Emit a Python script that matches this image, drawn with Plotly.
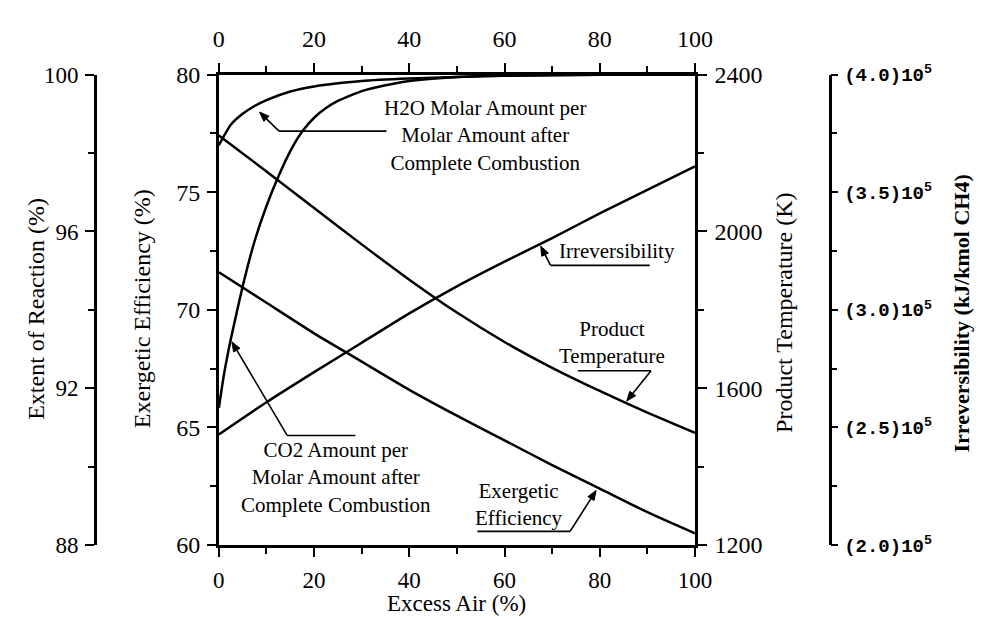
import math
import plotly.graph_objects as go

# ---------------- data ----------------
excess_air = [0, 10, 20, 30, 40, 50, 60, 70, 80, 90, 100]
exergetic_efficiency = [71.6, 70.3, 69.0, 67.8, 66.6, 65.5, 64.45, 63.4, 62.4, 61.4, 60.5]      # %
product_temperature = [2245, 2153, 2060, 1967, 1877, 1793, 1718, 1652, 1593, 1538, 1486]       # K
irreversibility = [2.47e5, 2.607e5, 2.735e5, 2.86e5, 2.985e5, 3.10e5, 3.205e5, 3.305e5,
                   3.41e5, 3.51e5, 3.61e5]                                                      # kJ/kmol CH4

co2_excess_air = [0, 1, 2.5, 5, 7.5, 10, 12.5, 15, 17.5, 20, 22.5, 25, 30, 35, 40, 50, 60, 80, 100]
co2_extent = [91.5, 92.3, 93.25, 94.6, 95.75, 96.65, 97.4, 98.05, 98.55, 98.9, 99.15, 99.33,
              99.58, 99.73, 99.84, 99.94, 99.98, 100.0, 100.0]                                  # %

h2o_excess_air = [0, 2.5, 5, 7.5, 10, 15, 20, 25, 30, 40, 50, 60, 80, 100]
h2o_extent = [98.2, 98.72, 99.0, 99.2, 99.35, 99.57, 99.7, 99.78, 99.84, 99.9, 99.94,
              99.97, 100.0, 100.0]                                                              # %

x_ticks = [0, 20, 40, 60, 80, 100]
irr_tickvals = [2.0e5, 2.5e5, 3.0e5, 3.5e5, 4.0e5]
irr_ticktext = ["(2.0)10<sup>5</sup>", "(2.5)10<sup>5</sup>", "(3.0)10<sup>5</sup>",
                "(3.5)10<sup>5</sup>", "(4.0)10<sup>5</sup>"]

# ---------------- figure ----------------
W, H = 983, 619
SERIF = "Liberation Serif"
line = dict(color="black", width=2.5)

fig = go.Figure()
fig.add_trace(go.Scatter(x=excess_air, y=exergetic_efficiency, mode="lines",
                         line=dict(line, shape="spline", smoothing=0.6), xaxis="x", yaxis="y",
                         name="Exergetic Efficiency"))
fig.add_trace(go.Scatter(x=excess_air, y=product_temperature, mode="lines",
                         line=dict(line, shape="spline", smoothing=0.6), xaxis="x", yaxis="y3",
                         name="Product Temperature"))
fig.add_trace(go.Scatter(x=excess_air, y=irreversibility, mode="lines",
                         line=dict(line, shape="spline", smoothing=0.6), xaxis="x", yaxis="y4",
                         name="Irreversibility"))
fig.add_trace(go.Scatter(x=co2_excess_air, y=co2_extent, mode="lines",
                         line=dict(line, shape="spline", smoothing=0.5), xaxis="x", yaxis="y2",
                         name="CO2"))
fig.add_trace(go.Scatter(x=h2o_excess_air, y=h2o_extent, mode="lines",
                         line=dict(line, shape="spline", smoothing=0.5), xaxis="x", yaxis="y2",
                         name="H2O"))
# invisible trace so that the top axis is drawn
fig.add_trace(go.Scatter(x=excess_air, y=exergetic_efficiency, mode="lines",
                         line=dict(width=0, color="rgba(0,0,0,0)"), xaxis="x2", yaxis="y",
                         hoverinfo="skip", showlegend=False))

PX_L, PX_R, PX_T, PX_B = 210, 698, 56, 547
x0, x1 = PX_L / W, PX_R / W
y0, y1 = 1 - PX_B / H, 1 - PX_T / H

common = dict(showline=True, linecolor="black", linewidth=2.5, showgrid=False, zeroline=False,
              ticks="outside", tickcolor="black", tickwidth=2, ticklen=9,
              tickfont=dict(family=SERIF, size=24, color="black"))
minor_common = dict(ticks="outside", tickcolor="black", tickwidth=2, ticklen=6, showgrid=False)

fig.update_layout(
    width=W, height=H, margin=dict(l=0, r=0, t=0, b=0),
    paper_bgcolor="white", plot_bgcolor="white", showlegend=False,
    font=dict(family=SERIF, color="black", size=22),
    xaxis=dict(common, domain=[x0, x1], range=[0, 100], tickmode="array", tickvals=x_ticks,
               minor=dict(minor_common, dtick=10, tick0=0), anchor="y", ticklabelstandoff=4,
               tickfont=dict(family=SERIF, size=23, color="black")),
    xaxis2=dict(common, domain=[x0, x1], range=[0, 100], tickmode="array", tickvals=x_ticks,
                minor=dict(minor_common, dtick=10, tick0=0), anchor="y", overlaying="x",
                side="top", ticklabelstandoff=6),
    yaxis=dict(common, domain=[y0, y1], range=[60, 80], tick0=60, dtick=5,
               minor=dict(minor_common, dtick=2.5, tick0=60), anchor="x", side="left",
               ticklabelstandoff=2),
    yaxis2=dict(common, range=[88, 100], tick0=88, dtick=4,
                minor=dict(minor_common, dtick=2, tick0=88), anchor="free", overlaying="y",
                position=83 / W, side="left", ticklabelstandoff=2,
                tickfont=dict(family=SERIF, size=23, color="black")),
    yaxis3=dict(common, range=[1200, 2400], tick0=1200, dtick=400,
                minor=dict(minor_common, dtick=200, tick0=1200), anchor="x", overlaying="y",
                side="right", ticklabelstandoff=3),
    yaxis4=dict(common, range=[2.0e5, 4.0e5], tickmode="array", tickvals=irr_tickvals,
                ticktext=irr_ticktext, minor=dict(minor_common, dtick=0.25e5, tick0=2.0e5),
                anchor="free", overlaying="y", position=836 / W, side="right",
                ticklen=7, ticklabelstandoff=2,
                tickfont=dict(family="Liberation Mono", size=19, color="black", weight="bold")),
)

# axis titles
titles = [
    ("Extent of Reaction (%)", 23 / W, 1 - 300 / H, dict(family=SERIF, size=24)),
    ("Exergetic Efficiency (%)", 132 / W, 1 - 300 / H, dict(family=SERIF, size=24)),
    ("Product Temperature (K)", 789 / W, 1 - 305 / H, dict(family=SERIF, size=24)),
    ("Irreversibility (kJ/kmol CH4)", 971 / W, 1 - 305 / H,
     dict(family=SERIF, size=22, weight="bold")),
]
for text, xp, yp, f in titles:
    fig.add_annotation(text=text, x=xp, y=yp, xref="paper", yref="paper", showarrow=False,
                       textangle=-90, xanchor="center", yanchor="middle",
                       font=dict(f, color="black"))
fig.add_annotation(text="Excess Air (%)", x=454 / W, y=1 - 608 / H, xref="paper", yref="paper",
                   showarrow=False, xanchor="center", yanchor="middle",
                   font=dict(family=SERIF, size=23, color="black"))

# curve labels (x in % excess air, y on the exergetic-efficiency scale)
labels = [
    ("H2O Molar Amount per<br>Molar Amount after<br>Complete Combustion", 55.9, 77.43),
    ("CO2 Amount per<br>Molar Amount after<br>Complete Combustion", 24.6, 62.86),
    ("Irreversibility", 83.6, 72.5),
    ("Product<br>Temperature", 82.6, 68.62),
    ("Exergetic<br>Efficiency", 63.1, 61.71),
]
for text, xa, ya in labels:
    fig.add_annotation(text=text, x=xa, y=ya, xref="x", yref="y", showarrow=False,
                       xanchor="center", yanchor="middle", align="center",
                       font=dict(family=SERIF, size=21, color="black"))

# leader lines with arrowheads: (tip_x, tip_y, elbow_x, elbow_y, end_x) on x / exergetic scale
leaders = [
    (8.55, 78.41, 12.64, 77.60, 35.2),
    (67.6, 72.71, 69.67, 71.89, 90.5),
    (85.66, 66.12, 90.78, 67.41, 75.4),
    (2.73, 68.64, 14.34, 64.66, 28.69),
    (79.24, 62.32, 73.77, 60.58, 54.3),
]
SX = (PX_R - PX_L) / 100.0      # px per % excess air
SY = (PX_B - PX_T) / 20.0       # px per % exergetic efficiency
HEAD_L, HEAD_W = 10.0, 3.8      # arrowhead size in px
lw = dict(color="black", width=1.6)
for tx, ty, ex, ey, hx in leaders:
    fig.add_shape(type="line", x0=ex, y0=ey, x1=hx, y1=ey, xref="x", yref="y", line=lw)
    dx, dy = (tx - ex) * SX, (ty - ey) * SY
    n = math.hypot(dx, dy)
    ux, uy = dx / n, dy / n
    bx, by = -ux * HEAD_L, -uy * HEAD_L          # tip -> base offset, px
    px_, py_ = -uy * HEAD_W, ux * HEAD_W         # perpendicular, px
    base_x, base_y = tx + bx / SX, ty + by / SY
    fig.add_shape(type="line", x0=ex, y0=ey, x1=base_x, y1=base_y, xref="x", yref="y", line=lw)
    p1 = (base_x + px_ / SX, base_y + py_ / SY)
    p2 = (base_x - px_ / SX, base_y - py_ / SY)
    fig.add_shape(type="path", xref="x", yref="y",
                  path=f"M {tx},{ty} L {p1[0]},{p1[1]} L {p2[0]},{p2[1]} Z",
                  fillcolor="black", line=dict(color="black", width=1))

fig.write_html("out.html")
